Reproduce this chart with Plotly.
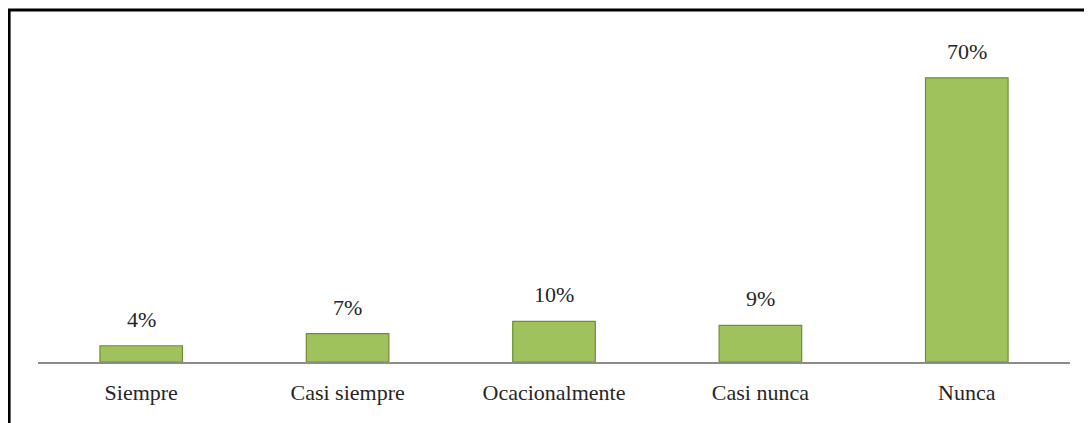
import plotly.graph_objects as go

categories = ["Siempre", "Casi siempre", "Ocacionalmente", "Casi nunca", "Nunca"]
values = [4, 7, 10, 9, 70]
labels = ["4%", "7%", "10%", "9%", "70%"]

FONT = "Liberation Serif"

fig = go.Figure()
fig.add_trace(go.Bar(
    x=categories, y=values,
    width=0.4,
    marker=dict(color="#9fc25c", line=dict(color="#6f8f33", width=1.2)),
    hoverinfo="skip",
))

for c, v, t in zip(categories, values, labels):
    fig.add_annotation(x=c, y=v, text=t, showarrow=False, yanchor="bottom", yshift=12,
                       font=dict(family=FONT, size=22, color="#262626"))

# outer frame (open to the right and bottom, as in the picture)
fig.add_shape(type="rect", xref="paper", yref="paper",
              x0=-0.028, x1=1.2, y0=-0.4, y1=1.0, line=dict(color="black", width=3))

# the page body has an 8px offset, so margins are trimmed by that amount
fig.update_layout(
    width=1092, height=423,
    margin=dict(l=30, r=30, t=2, b=69),
    plot_bgcolor="white", paper_bgcolor="white",
    showlegend=False,
    bargap=0.6,
    font=dict(family=FONT, size=22, color="#262626"),
)
fig.update_xaxes(showline=True, linecolor="#8c8c8c", linewidth=2, ticks="",
                 ticklabelstandoff=10,
                 tickfont=dict(family=FONT, size=22, color="#262626"))
fig.update_yaxes(range=[0, 86.7], visible=False, showgrid=False)

fig.write_html("out.html")
